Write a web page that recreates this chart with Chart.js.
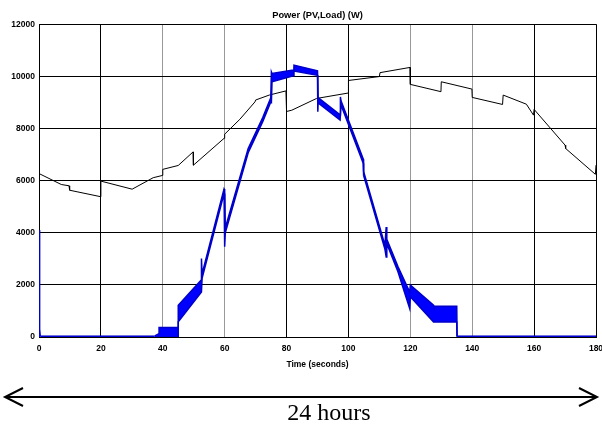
<!DOCTYPE html>
<html>
<head>
<meta charset="utf-8">
<script src="https://cdn.jsdelivr.net/npm/chart.js@4.4.1/dist/chart.umd.min.js"></script>
<style>
    body { margin: 0; background: #fff; }
    #wrap { position: relative; width: 602px; height: 429px; }
    #arrow { position: absolute; left: 0; top: 0; }
    #hours { position: absolute; left: 229px; width: 200px; top: 400px; text-align: center;
             font: 24px 'Liberation Serif', 'Times New Roman', serif; line-height: 24px; color: #000; }
</style>
</head>
<body>
<div id="wrap">
    <canvas id="powerChart" width="602" height="429"></canvas>
    <svg id="arrow" width="602" height="429">
        <line x1="6" y1="397" x2="597" y2="397" stroke="#000" stroke-width="2"/>
        <polyline points="23,388 5,397 23,406" fill="none" stroke="#000" stroke-width="2"/>
        <polyline points="579,388 597,397 579,406" fill="none" stroke="#000" stroke-width="2"/>
    </svg>
    <div id="hours">24 hours</div>
</div>
<script>
// load curve (black)
const loadTime  = [0, 7.2, 9.7, 9.9, 20, 20, 30.1, 36.9, 40, 40, 45, 49.8, 49.9, 59.8, 60, 64.9, 69.8, 70, 74.4, 79.8, 80, 81.7, 89.7, 100, 100, 110, 110.2, 119.9, 120, 129.9, 130, 139.9, 140, 149.8, 150, 157.5, 159.8, 160, 170, 170.2, 179.8, 180];
const loadPower = [6270, 5850, 5800, 5630, 5380, 5980, 5670, 6110, 6200, 6430, 6580, 7100, 6590, 7620, 7780, 8350, 9020, 9090, 9280, 9440, 8650, 8700, 9150, 9360, 9840, 9990, 10140, 10340, 9690, 9410, 9790, 9510, 9190, 8920, 9280, 8930, 8510, 8730, 7360, 7230, 6240, 6590];

// PV output (blue) - it oscillates, so keep the top and bottom of the band
const pvTime = [0, 0.2, 0.4, 37.4, 38.8, 38.8, 45, 45, 52.5, 52.5, 52.7, 59.8, 60, 60.2, 67.6, 72.3, 74.9, 75.1, 75.3, 82.2, 82.4, 90, 90.1, 90.2, 97.3, 97.4, 97.6, 104.8, 104.9, 111.8, 112.2, 112.4, 116, 119.8, 120, 127.5, 127.6, 135, 135.1, 180];
const pvHigh = [4100, 300, 40, 40, 130, 360, 360, 1220, 2200, 3010, 2420, 5680, 5630, 4180, 7230, 8420, 9180, 10170, 10110, 10240, 10430, 10210, 10210, 9180, 8520, 9210, 9060, 6820, 6350, 3520, 4220, 3750, 2700, 1720, 1990, 1220, 1180, 1180, 40, 40];
const pvLow  = [0, 0, 0, 0, 0, 0, 0, 580, 1730, 1730, 2250, 5500, 3460, 4000, 7070, 8260, 9020, 9000, 9790, 10020, 10200, 10040, 8640, 8980, 8320, 8320, 8900, 6660, 6200, 3360, 3070, 3580, 2500, 1090, 1540, 580, 580, 580, 0, 0];

const grayLines = [40, 60, 120, 140];
const tickFont = { family: 'Liberation Sans', size: 8.5, weight: 'bold' };

function points(xs, ys) {
    return xs.map((x, i) => ({ x: x, y: ys[i] }));
}

// thinner line where the PV sits at zero
const flatWidth = c => (c.p0.parsed.y < 100 && c.p1.parsed.y < 100) ? 1 : 1.5;

new Chart('powerChart', {
    type: 'line',
    data: {
        datasets: [
            {
                label: 'PV',
                data: points(pvTime, pvHigh),
                borderColor: '#0000c8',
                borderWidth: 1.5,
                segment: { borderWidth: flatWidth },
                pointRadius: 0,
                tension: 0,
                fill: false,
                order: 0
            },
            {
                label: 'PV low',
                data: points(pvTime, pvLow),
                borderColor: '#0000c8',
                backgroundColor: '#0000ff',
                borderWidth: 1.5,
                segment: { borderWidth: flatWidth },
                pointRadius: 0,
                tension: 0,
                fill: '-1',
                order: 0
            },
            {
                label: 'Load',
                data: points(loadTime, loadPower),
                borderColor: '#000',
                borderWidth: 1,
                pointRadius: 0,
                tension: 0,
                fill: false,
                order: 1
            }
        ]
    },
    options: {
        responsive: false,
        animation: false,
        layout: { padding: { left: 0, right: 6, top: 0, bottom: 0 } },
        plugins: {
            legend: { display: false },
            tooltip: { enabled: false },
            title: {
                display: true,
                text: 'Power (PV,Load) (W)',
                fullSize: false,
                color: '#000',
                font: { family: 'Liberation Sans', size: 9.3, weight: 'bold' },
                padding: { top: 10, bottom: 3 }
            }
        },
        scales: {
            x: {
                type: 'linear',
                min: 0,
                max: 180,
                ticks: { stepSize: 20, color: '#000', font: tickFont, padding: 7, maxRotation: 0,
                         callback: v => String(v) },
                grid: {
                    drawTicks: false,
                    color: c => (c.tick && grayLines.includes(c.tick.value)) ? '#999' : '#000'
                },
                border: { color: '#000' },
                title: {
                    display: true,
                    text: 'Time (seconds)',
                    color: '#000',
                    font: { family: 'Liberation Sans', size: 8.5, weight: 'bold' },
                    padding: { top: 0, bottom: 59 }
                },
                afterFit: s => { s.height = 92; s.paddingLeft = 0; s.paddingRight = 0; }
            },
            y: {
                min: 0,
                max: 12000,
                ticks: { stepSize: 2000, color: '#000', font: tickFont, padding: 4,
                         callback: v => String(v) },
                grid: { drawTicks: false, color: '#000' },
                border: { color: '#000' },
                afterFit: s => { s.width = 39; s.paddingTop = 0; s.paddingBottom = 0; }
            }
        }
    }
});
</script>
</body>
</html>
